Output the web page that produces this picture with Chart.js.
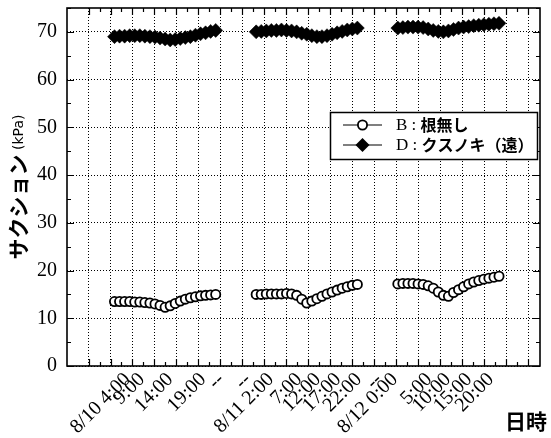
<!DOCTYPE html>
<html>
<head>
<meta charset="utf-8">
<script src="https://cdn.jsdelivr.net/npm/chart.js@4.4.1/dist/chart.umd.min.js"></script>
<style>
  html, body { margin: 0; background: #fff; }
  #wrap { width: 551px; height: 438px; }
</style>
</head>
<body>
<div id="wrap"><canvas id="chart"></canvas></div>
<script>
// one slot per hourly record, records of each day start at these slots
const daySlots = [0, 28, 56];

// B: 根無し (kPa)
const rootlessB = [
  [13.5, 13.5, 13.5, 13.5, 13.4, 13.4, 13.3, 13.2, 13.0, 12.7, 12.3, 12.6, 13.1, 13.6, 14.0, 14.3, 14.5, 14.7, 14.8, 14.9, 15.0],
  [15.0, 15.0, 15.1, 15.1, 15.1, 15.1, 15.2, 15.1, 14.8, 14.0, 13.2, 13.6, 14.1, 14.6, 15.1, 15.5, 15.9, 16.3, 16.6, 16.9, 17.1],
  [17.2, 17.3, 17.3, 17.3, 17.2, 17.1, 16.8, 16.3, 15.5, 14.8, 14.6, 15.4, 16.0, 16.6, 17.2, 17.6, 17.9, 18.2, 18.4, 18.6, 18.8]
];

// D: クスノキ（遠） (kPa)
const camphorD = [
  [69.0, 69.1, 69.1, 69.2, 69.2, 69.2, 69.1, 69.0, 68.9, 68.7, 68.5, 68.3, 68.4, 68.6, 68.8, 69.0, 69.3, 69.6, 69.8, 70.1, 70.3],
  [70.0, 70.1, 70.2, 70.3, 70.3, 70.4, 70.3, 70.2, 70.0, 69.7, 69.5, 69.2, 69.0, 69.0, 69.2, 69.5, 69.8, 70.1, 70.4, 70.6, 70.8],
  [70.8, 70.9, 71.0, 71.0, 71.0, 70.9, 70.6, 70.3, 70.1, 70.0, 70.2, 70.5, 70.8, 71.0, 71.1, 71.3, 71.4, 71.5, 71.6, 71.7, 71.8]
];

// tick labels and the slot where each one sits
const tickLabels = ['8/10 4:00', '9:00', '14:00', '19:00', '--', '--', '8/11 2:00', '7:00', '12:00', '17:00', '22:00', '--', '8/12 0:00', '5:00', '10:00', '15:00', '20:00'];
const tickSlots = [2.6, 5.4, 11.0, 17.5, 21.1, 26.4, 30.9, 36.5, 40.2, 44.2, 48.3, 52.3, 55.4, 62.2, 65.9, 70.1, 74.4];

const yTicks = [0, 10, 20, 30, 40, 50, 60, 70];

// axis range / grid in slot units
const X_MIN = -9.39, X_MAX = 84.1;
const GRID_START = -5.14, GRID_STEP = 4.348, GRID_COUNT = 21;

const SERIF = "'Liberation Serif', 'DejaVu Serif', serif";
const GOTHIC = "'Noto Sans CJK JP', 'Noto Sans', sans-serif";

function toPoints(days) {
  const pts = [];
  days.forEach((vals, d) => {
    vals.forEach((v, i) => pts.push({ x: daySlots[d] + i, y: v }));
    pts.push({ x: daySlots[d] + vals.length, y: null });
  });
  return pts;
}

function gridValues() {
  const out = [];
  for (let k = 0; k < GRID_COUNT; k++) out.push(GRID_START + k * GRID_STEP);
  return out;
}

function noPad(s) {
  s.paddingTop = 0; s.paddingBottom = 0; s.paddingLeft = 0; s.paddingRight = 0;
}

// frame, inward ticks, axis titles and legend
const decorPlugin = {
  id: 'decor',
  afterDraw(chart) {
    const { ctx, chartArea: a, scales } = chart;
    const xs = scales.x, ys = scales.y;
    ctx.save();
    ctx.strokeStyle = '#000';

    // inward tick marks on all four sides
    ctx.lineWidth = 1.2;
    ctx.beginPath();
    const g = gridValues();
    g.forEach((v, k) => {
      const px = Math.round(xs.getPixelForValue(v)) + 0.5;
      ctx.moveTo(px, a.bottom); ctx.lineTo(px, a.bottom - 7);
      ctx.moveTo(px, a.top); ctx.lineTo(px, a.top + 7);
      if (k < g.length - 1) {
        const mx = Math.round(xs.getPixelForValue(v + GRID_STEP / 2)) + 0.5;
        ctx.moveTo(mx, a.bottom); ctx.lineTo(mx, a.bottom - 4);
        ctx.moveTo(mx, a.top); ctx.lineTo(mx, a.top + 4);
      }
    });
    for (let v = 0; v <= 75; v += 5) {
      const py = Math.round(ys.getPixelForValue(v)) + 0.5;
      const len = v % 10 === 0 ? 7 : 4;
      ctx.moveTo(a.left, py); ctx.lineTo(a.left + len, py);
      ctx.moveTo(a.right, py); ctx.lineTo(a.right - len, py);
    }
    ctx.stroke();

    // frame
    ctx.lineWidth = 1.6;
    ctx.strokeRect(a.left, a.top, a.right - a.left, a.bottom - a.top);

    // y title
    ctx.fillStyle = '#000';
    ctx.save();
    ctx.translate(18, 187);
    ctx.rotate(-Math.PI / 2);
    ctx.textBaseline = 'middle';
    const f1 = 'bold 21px ' + GOTHIC;
    const f2 = "14px 'DejaVu Sans', sans-serif";
    const t1 = 'サクション';
    const t2 = ' (kPa)';
    ctx.font = f1;
    const w1 = ctx.measureText(t1).width;
    ctx.font = f2;
    const w2 = ctx.measureText(t2).width;
    const sx = -(w1 + w2) / 2;
    ctx.font = f1;
    ctx.fillText(t1, sx, 0);
    ctx.font = f2;
    ctx.fillText(t2, sx + w1, 1);
    ctx.restore();

    // x title
    ctx.font = 'bold 21px ' + GOTHIC;
    ctx.textAlign = 'center';
    ctx.textBaseline = 'middle';
    ctx.fillText('日時', 526, 421);

    // legend
    const bx = 330.5, by = 112.5, bw = 207, bh = 47;
    ctx.fillStyle = '#fff';
    ctx.fillRect(bx, by, bw, bh);
    ctx.lineWidth = 1.5;
    ctx.strokeRect(bx, by, bw, bh);
    const rows = [
      { y: 125, sym: 'B', name: '根無し', ds: chart.data.datasets[0] },
      { y: 145, sym: 'D', name: 'クスノキ（遠）', ds: chart.data.datasets[1] }
    ];
    rows.forEach(r => {
      ctx.lineWidth = 1.2;
      ctx.beginPath();
      ctx.moveTo(343, r.y); ctx.lineTo(382, r.y);
      ctx.stroke();
      const cx = 362.5;
      ctx.beginPath();
      if (r.ds.pointStyle === 'circle') {
        ctx.arc(cx, r.y, r.ds.pointRadius, 0, Math.PI * 2);
        ctx.fillStyle = '#fff';
        ctx.fill();
        ctx.lineWidth = r.ds.pointBorderWidth;
        ctx.stroke();
      } else {
        const rr = r.ds.pointRadius;
        ctx.moveTo(cx - rr, r.y); ctx.lineTo(cx, r.y - rr);
        ctx.lineTo(cx + rr, r.y); ctx.lineTo(cx, r.y + rr);
        ctx.closePath();
        ctx.fillStyle = '#000';
        ctx.fill();
      }
      ctx.fillStyle = '#000';
      ctx.textAlign = 'left';
      ctx.textBaseline = 'middle';
      ctx.font = '17px ' + SERIF;
      const lead = r.sym + ' : ';
      ctx.fillText(lead, 396, r.y + 1);
      const lw = ctx.measureText(lead).width;
      ctx.font = 'bold 16px ' + GOTHIC;
      ctx.fillText(r.name, 396 + lw, r.y);
    });
    ctx.restore();
  }
};

new Chart(document.getElementById('chart'), {
  type: 'line',
  data: {
    datasets: [
      {
        label: 'B : 根無し',
        data: toPoints(rootlessB),
        borderColor: '#000',
        borderWidth: 1,
        pointStyle: 'circle',
        pointRadius: 4.6,
        pointBorderWidth: 1.8,
        pointBackgroundColor: '#fff',
        pointBorderColor: '#000',
        spanGaps: false
      },
      {
        label: 'D : クスノキ（遠）',
        data: toPoints(camphorD),
        borderColor: '#000',
        borderWidth: 1,
        pointStyle: 'rectRot',
        pointRadius: 7,
        pointBorderWidth: 0.5,
        pointBackgroundColor: '#000',
        pointBorderColor: '#000',
        spanGaps: false
      }
    ]
  },
  options: {
    responsive: true,
    maintainAspectRatio: false,
    animation: false,
    layout: { autoPadding: false, padding: { top: 8, right: 11, left: 0, bottom: 0 } },
    plugins: { legend: { display: false }, tooltip: { enabled: false } },
    scales: {
      x: {
        type: 'linear',
        min: X_MIN,
        max: X_MAX,
        position: 'bottom',
        afterBuildTicks: s => { s.ticks = gridValues().map(v => ({ value: v })); },
        afterFit: s => { s.height = 0; noPad(s); },
        ticks: { display: false },
        grid: { color: '#000', lineWidth: 1, drawTicks: false },
        border: { display: false, dash: [1, 2] }
      },
      xl: {
        type: 'linear',
        min: X_MIN,
        max: X_MAX,
        position: 'bottom',
        afterBuildTicks: s => { s.ticks = tickSlots.map(v => ({ value: v })); },
        afterFit: s => { s.height = 72; noPad(s); },
        ticks: {
          autoSkip: false,
          minRotation: 45,
          maxRotation: 45,
          padding: 2,
          color: '#000',
          font: { family: SERIF, size: 20 },
          callback: (v, i) => tickLabels[i]
        },
        grid: { display: false, drawTicks: false },
        border: { display: false }
      },
      y: {
        type: 'linear',
        min: 0,
        max: 75,
        afterBuildTicks: s => { s.ticks = yTicks.map(v => ({ value: v })); },
        afterFit: s => { s.width = 67; noPad(s); },
        ticks: {
          padding: 10,
          color: '#000',
          font: { family: SERIF, size: 20 }
        },
        grid: { color: '#000', lineWidth: 1, drawTicks: false },
        border: { display: false, dash: [1, 2] }
      }
    }
  },
  plugins: [decorPlugin]
});
</script>
</body>
</html>
